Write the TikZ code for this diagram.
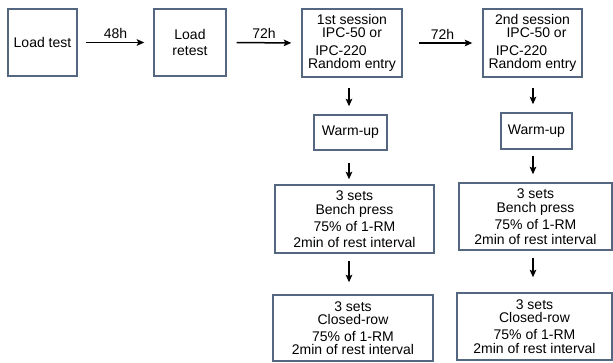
\documentclass[tikz,border=0pt]{standalone}
\usepackage{fontspec}
\setmainfont{Liberation Sans}
\usetikzlibrary{arrows.meta}
\definecolor{boxc}{RGB}{84,102,128}
\tikzset{
  box/.style={draw=boxc, line width=1.4pt, align=center, inner sep=1pt, font=\fontsize{14}{15.5}\selectfont},
  arr/.style={-{Stealth[length=7.5pt,width=6.5pt,inset=1.5pt]}, line width=1.5pt, black},
  lab/.style={font=\fontsize{14}{15.5}\selectfont, inner sep=1pt}
}
\begin{document}
\begin{tikzpicture}[x=1pt,y=-1pt]
\useasboundingbox (0,0) rectangle (613,363);
\node[box, minimum width=69pt, minimum height=67pt] (b1) at (42.5,42.5) {Load test};
\node[box, minimum width=72pt, minimum height=67pt] (b2) at (190,42.5) {Load\\retest};
\node[box, minimum width=100pt, minimum height=68pt] (b3) at (352,43) {1st session\\[-2.5pt]IPC-50 or\\[2.5pt]\hspace*{-22pt}IPC-220\\[-2pt]Random entry};
\node[box, minimum width=99pt, minimum height=68pt] (b4) at (532.5,43) {2nd session\\[-2.5pt]\hspace*{8pt}IPC-50 or\\[2.5pt]\hspace*{-22pt}IPC-220\\[-2pt]Random entry};
\node[box, minimum width=73pt, minimum height=35pt] (w1) at (350.5,132.5) {Warm-up};
\node[box, minimum width=71pt, minimum height=36pt] (w2) at (536.5,131) {Warm-up};
\node[box, minimum width=159pt, minimum height=68pt] (p1) at (354.5,219) {3 sets\\[-1.5pt]Bench press\\[1.5pt]75\% of 1-RM\\2min of rest interval};
\node[box, minimum width=153pt, minimum height=67pt] (p2) at (535.5,216.5) {3 sets\\[-1.5pt]Bench press\\[1.5pt]75\% of 1-RM\\[-1pt]2min of rest interval};
\node[box, minimum width=160pt, minimum height=66pt] (r1) at (353,328) {3 sets\\[-2.5pt]Closed-row\\[1.5pt]75\% of 1-RM\\[-2pt]2min of rest interval};
\node[box, minimum width=155pt, minimum height=67pt] (r2) at (534.5,326.5) {3 sets\\[-2.5pt]Closed-row\\[1.5pt]75\% of 1-RM\\[-2pt]2min of rest interval};
% horizontal arrows
\draw[arr, shorten <=8pt, shorten >=9pt] (b1.east) -- node[lab, above=2pt] {48h} (b2.west);
\draw[arr, shorten <=10pt, shorten >=10pt] (b2.east) -- node[lab, above=2pt] {72h} (b3.west);
\draw[arr, shorten <=16pt, shorten >=10pt] (b3.east) -- node[lab, above=2pt] {72h} (b4.west);
% vertical arrows
\draw[arr, shorten <=10pt, shorten >=8pt] ([xshift=-3pt]b3.south) -- ([xshift=-1.5pt]w1.north);
\draw[arr, shorten <=10pt, shorten >=8pt] ([xshift=0.5pt]b4.south) -- ([xshift=-3.5pt]w2.north);
\draw[arr, shorten <=12pt, shorten >=5pt] ([xshift=-1.5pt]w1.south) -- ([xshift=-5.5pt]p1.north);
\draw[arr, shorten <=6pt, shorten >=8pt] ([xshift=-3.5pt]w2.south) -- ([xshift=-2.5pt]p2.north);
\draw[arr, shorten <=7pt, shorten >=12pt] ([xshift=-5.5pt]p1.south) -- ([xshift=-4pt]r1.north);
\draw[arr, shorten <=7pt, shorten >=15pt] ([xshift=-2.5pt]p2.south) -- ([xshift=-1.5pt]r2.north);
\end{tikzpicture}
\end{document}
